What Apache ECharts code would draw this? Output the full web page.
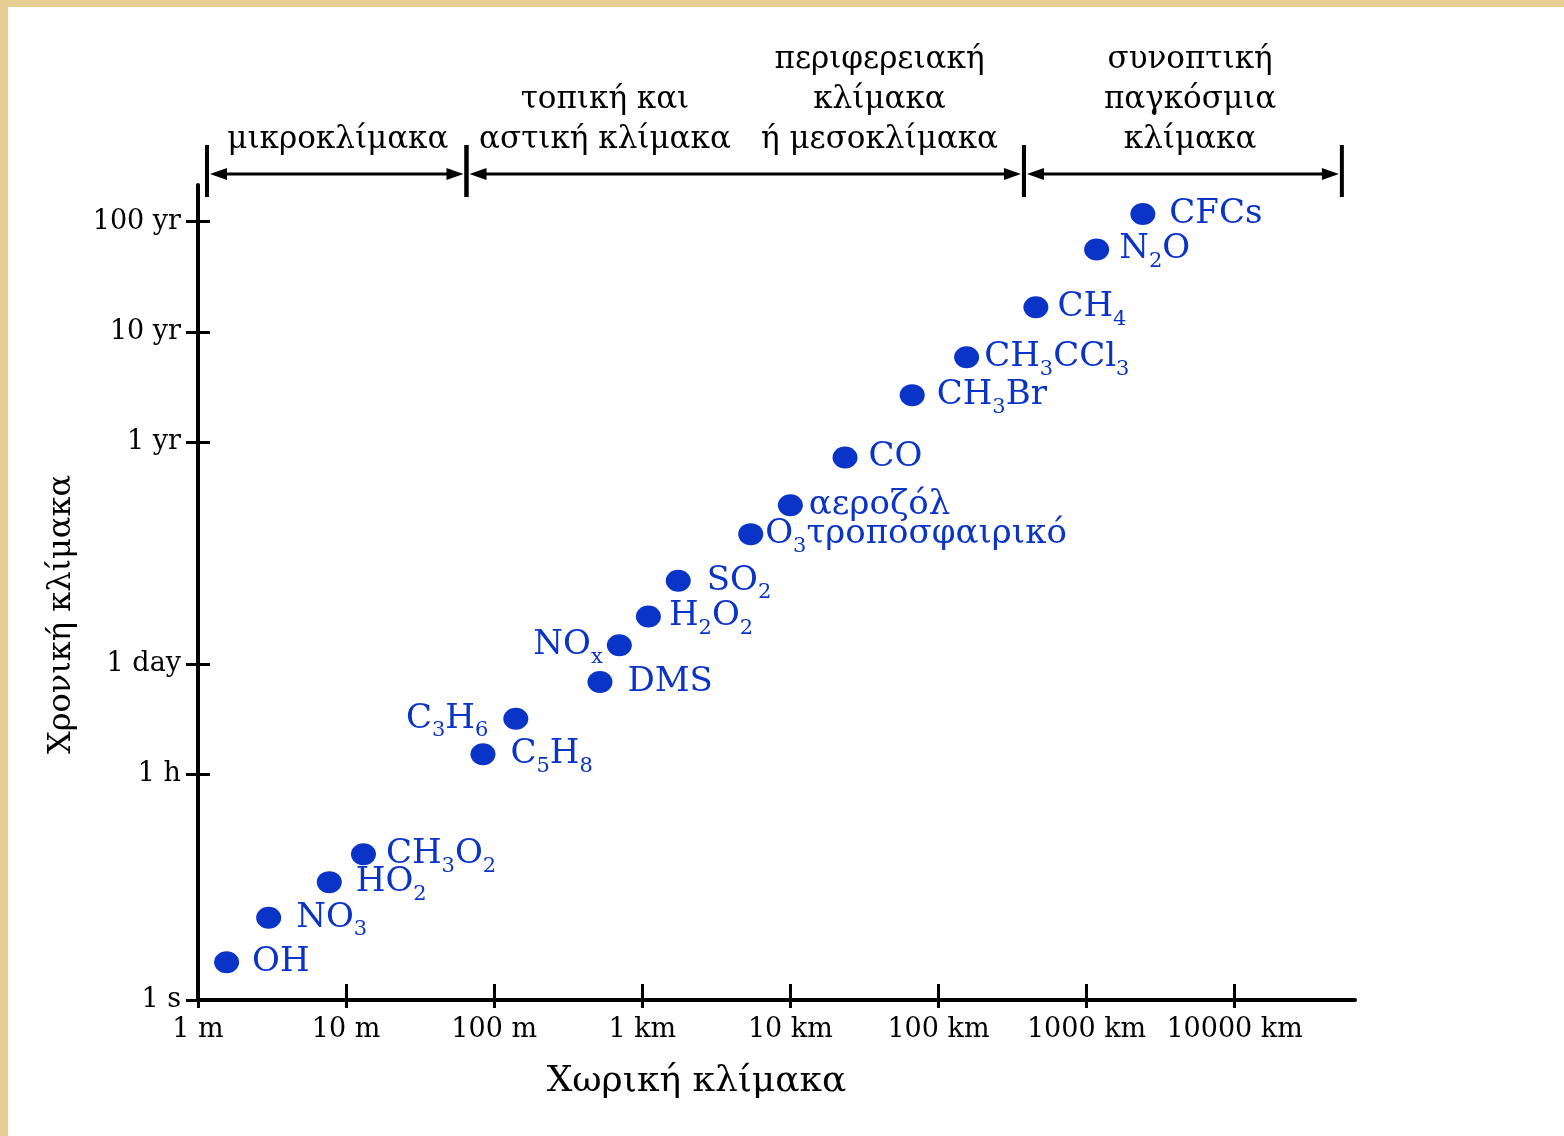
<!DOCTYPE html>
<html>
<head>
<meta charset="utf-8">
<title>Χωρική και χρονική κλίμακα</title>
<script src="https://cdn.jsdelivr.net/npm/echarts@6/dist/echarts.min.js"></script>
<style>
  body { margin: 0; background: #fff; }
  #wrap { position: relative; width: 1564px; height: 1136px; }
  #chart { width: 1564px; height: 1136px; }
  /* tan paper edge of the scanned figure */
  .edge { position: absolute; background: #e6cd93; pointer-events: none; }
</style>
</head>
<body>
<div id="wrap">
  <div id="chart"></div>
  <div class="edge" style="left:0;top:0;width:8px;height:1136px"></div>
  <div class="edge" style="left:0;top:0;width:1564px;height:7px"></div>
</div>
<script>
  // x: spatial scale in metres (log axis)
  var xTickValues = [1, 10, 100, 1e3, 1e4, 1e5, 1e6, 1e7];
  var xTickLabels = ['1 m', '10 m', '100 m', '1 km', '10 km', '100 km', '1000 km', '10000 km'];
  // y: the figure's time axis is not uniform, values are read in its own units
  var yTickValues = [0, 2.03, 3.02, 5.02, 6.01, 7];
  var yTickLabels = ['1 s', '1 h', '1 day', '1 yr', '10 yr', '100 yr'];

  var species = ['OH', 'NO3', 'HO2', 'CH3O2', 'C5H8', 'C3H6', 'DMS', 'NOx', 'H2O2', 'SO2',
    'O3', 'aerosol', 'CO', 'CH3Br', 'CH3CCl3', 'CH4', 'N2O', 'CFCs'];
  var speciesLabels = ['OH', 'NO{s|3}', 'HO{s|2}', 'CH{s|3}O{s|2}', 'C{s|5}H{s|8}', 'C{s|3}H{s|6}',
    'DMS', 'NO{s|x}', 'H{s|2}O{s|2}', 'SO{s|2}', 'O{s|3}τροποσφαιρικό', 'αεροζόλ', 'CO',
    'CH{s|3}Br', 'CH{s|3}CCl{s|3}', 'CH{s|4}', 'N{s|2}O', 'CFCs'];
  var spatialScale = [1.56, 3.0, 7.7, 13.1, 84, 140, 518, 700, 1100, 1750,
    5400, 10000, 23400, 66500, 155000, 455000, 1.17e6, 2.4e6];
  var timeScale = [0.34, 0.74, 1.06, 1.31, 2.21, 2.53, 2.86, 3.19, 3.45, 3.77,
    4.19, 4.45, 4.88, 5.44, 5.78, 6.23, 6.75, 7.07];
  var labelSide = ['right', 'right', 'right', 'right', 'right', 'left', 'right', 'left', 'right', 'right',
    'right', 'right', 'right', 'right', 'right', 'right', 'right', 'right'];
  var labelGap = [13, 15, 14, 10, 15, 15, 15, 4, 8, 16, 2, 6, 11, 12, 5, 9, 10, 14];

  // top bracket: scale ranges (metres) and their names
  var scaleBounds = [1.15, 65, 3.78e5, 5.3e7];
  var scaleNames = ['μικροκλίμακα', 'τοπική και\nαστική κλίμακα', 'περιφερειακή\nκλίμακα\nή μεσοκλίμακα',
    'συνοπτική\nπαγκόσμια\nκλίμακα'];
  var scaleNamePos = [8.8, 560, 40000, 5.0e6];

  var X_MAX = 6.5e7, Y_MAX = 7.33;
  var FONT = '"DejaVu Serif", "Liberation Serif", serif';
  var BLUE = '#0a33c8';

  var points = species.map(function (s, i) {
    return {
      name: s,
      value: [spatialScale[i], timeScale[i]],
      label: { position: labelSide[i], distance: labelGap[i] }
    };
  });

  var bandData = [];
  for (var i = 0; i < scaleBounds.length - 1; i++) {
    bandData.push([scaleBounds[i], scaleBounds[i + 1]]);
  }

  var chart = echarts.init(document.getElementById('chart'));
  var axisText = { color: '#000', fontFamily: FONT, fontSize: 27 };

  chart.setOption({
    backgroundColor: '#fff',
    animation: false,
    grid: { left: 198, right: 209, top: 185, bottom: 136 },
    xAxis: [{
      type: 'log', logBase: 10, min: 1, max: X_MAX, position: 'bottom',
      name: 'Χωρική κλίμακα', nameLocation: 'middle', nameGap: 64,
      nameTextStyle: { color: '#000', fontFamily: FONT, fontSize: 36, padding: [0, 160, 0, 0] },
      axisLine: { onZero: false, lineStyle: { color: '#000', width: 4 } },
      axisTick: { inside: true, length: 16, customValues: xTickValues, lineStyle: { color: '#000', width: 3 } },
      axisLabel: Object.assign({
        margin: 16, customValues: xTickValues,
        formatter: function (v) { return xTickLabels[Math.round(Math.log10(v))]; }
      }, axisText),
      splitLine: { show: false }
    }, {
      type: 'log', logBase: 10, min: 1, max: X_MAX, position: 'bottom',
      axisLine: { show: false },
      axisTick: { inside: false, length: 8, customValues: xTickValues, lineStyle: { color: '#000', width: 3 } },
      axisLabel: { show: false },
      splitLine: { show: false }
    }],
    yAxis: [{
      type: 'value', min: 0, max: Y_MAX, position: 'left',
      name: 'Χρονική κλίμακα', nameLocation: 'middle', nameGap: 120, nameRotate: 90,
      nameTextStyle: { color: '#000', fontFamily: FONT, fontSize: 32, padding: [0, 44, 0, 0] },
      axisLine: { onZero: false, lineStyle: { color: '#000', width: 4 } },
      axisTick: { inside: false, length: 12, customValues: yTickValues, lineStyle: { color: '#000', width: 3 } },
      axisLabel: Object.assign({
        margin: 17, customValues: yTickValues,
        formatter: function (v) { return yTickLabels[yTickValues.indexOf(v)]; }
      }, axisText),
      splitLine: { show: false }
    }, {
      type: 'value', min: 0, max: Y_MAX, position: 'left',
      axisLine: { show: false },
      axisTick: { inside: true, length: 12, customValues: yTickValues, lineStyle: { color: '#000', width: 3 } },
      axisLabel: { show: false },
      splitLine: { show: false }
    }],
    series: [{
      type: 'scatter',
      data: points,
      symbol: 'circle',
      symbolSize: [25, 22],
      itemStyle: { color: BLUE, opacity: 1 },
      label: {
        show: true,
        color: BLUE,
        fontFamily: FONT,
        fontSize: 34,
        lineHeight: 40,
        formatter: function (p) { return speciesLabels[p.dataIndex]; },
        rich: {
          s: { fontSize: 21, fontFamily: FONT, color: BLUE, lineHeight: 45, verticalAlign: 'bottom' }
        }
      },
      emphasis: { disabled: true }
    }, {
      // arrows of the scale brackets
      type: 'custom',
      silent: true,
      data: bandData,
      renderItem: function (params, api) {
        var a = api.coord([api.value(0), Y_MAX]);
        var b = api.coord([api.value(1), Y_MAX]);
        var y = a[1] - 11;
        var x0 = a[0] + 3, x1 = b[0] - 3;
        return {
          type: 'group',
          children: [
            { type: 'rect', shape: { x: a[0] - 2, y: y - 29, width: 4, height: 52 }, style: { fill: '#000' } },
            { type: 'rect', shape: { x: b[0] - 2, y: y - 29, width: 4, height: 52 }, style: { fill: '#000' } },
            { type: 'line', shape: { x1: x0 + 8, y1: y, x2: x1 - 8, y2: y }, style: { stroke: '#000', lineWidth: 3 } },
            { type: 'polygon', shape: { points: [[x0, y], [x0 + 17, y - 6], [x0 + 17, y + 6]] }, style: { fill: '#000' } },
            { type: 'polygon', shape: { points: [[x1, y], [x1 - 17, y - 6], [x1 - 17, y + 6]] }, style: { fill: '#000' } }
          ]
        };
      }
    }, {
      // names of the scales
      type: 'custom',
      silent: true,
      data: scaleNamePos.map(function (x) { return [x, Y_MAX]; }),
      renderItem: function (params, api) {
        var p = api.coord([api.value(0), Y_MAX]);
        return {
          type: 'text',
          x: p[0],
          y: p[1] - 25,
          style: {
            text: scaleNames[params.dataIndex],
            fill: '#000',
            fontFamily: FONT,
            fontSize: 31,
            lineHeight: 40,
            align: 'center',
            verticalAlign: 'bottom'
          }
        };
      }
    }]
  });
</script>
</body>
</html>
